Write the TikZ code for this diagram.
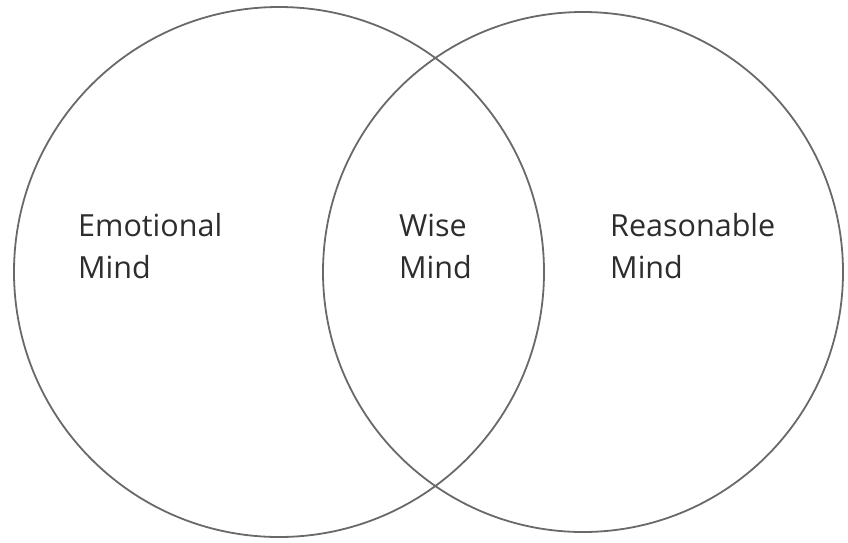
\documentclass[tikz,border=0pt]{standalone}
\usepackage{fontspec}
\setmainfont{Open Sans}
\usepackage{xcolor}
\definecolor{ringcolor}{RGB}{105, 105, 105}
\definecolor{textcolor}{RGB}{45, 45, 45}
\begin{document}
\begin{tikzpicture}[
    x=1pt, y=-1pt,
    % Node styles
    mindring/.style={circle, draw=ringcolor, line width=1.8pt, inner sep=0pt},
    mindlabel/.style={align=left, anchor=base west, inner sep=0pt, text=textcolor,
      font=\fontsize{30.5}{42}\selectfont},
]
\useasboundingbox (0,0) rectangle (848,542);

% Two overlapping minds
\node (emotional) [mindring, minimum size=530pt] at (279,272) {};
\node (reasonable) [mindring, minimum size=520pt] at (583,272) {};

% Labels (anchored on the baseline of the last line)
\node (emotionaltext) [mindlabel] at (78,278) {Emotional\\Mind};
\node (wisetext) [mindlabel] at (399,278) {Wise\\Mind};
\node (reasonabletext) [mindlabel] at (610,278) {Reasonable\\Mind};

\end{tikzpicture}
\end{document}
